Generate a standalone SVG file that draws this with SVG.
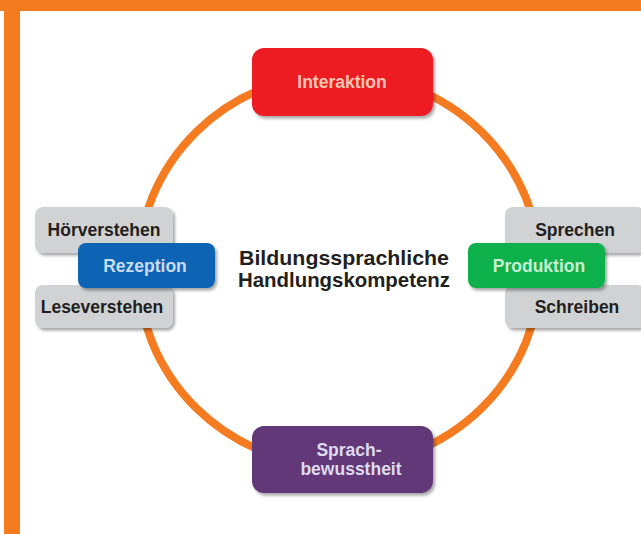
<svg xmlns="http://www.w3.org/2000/svg" width="641" height="534" viewBox="0 0 641 534">
<defs>
<filter id="sh" x="-10%" y="-10%" width="130%" height="140%">
<feDropShadow dx="2" dy="2.5" stdDeviation="1.5" flood-color="#000" flood-opacity="0.35"/>
</filter>
<style>
text{font-family:"Liberation Sans",Arial,sans-serif;font-weight:bold;text-anchor:middle}
.lbl{font-size:17.5px}
.gray{fill:#d1d2d4}
.dark{fill:#231f20}
</style>
</defs>
<rect x="0" y="0" width="641" height="534" fill="#fff"/>
<rect x="0" y="0" width="641" height="11" fill="#f47b20"/>
<rect x="4" y="0" width="16" height="534" fill="#f47b20"/>
<g id="connectors">
<ellipse cx="339" cy="270" rx="201" ry="196" fill="none" stroke="#f47b20" stroke-width="8"/>
</g>
<g id="center-label">
<text class="dark" x="344" y="265" font-size="21" textLength="210" lengthAdjust="spacingAndGlyphs">Bildungssprachliche</text>
<text class="dark" x="344" y="287" font-size="21" textLength="212" lengthAdjust="spacingAndGlyphs">Handlungskompetenz</text>
</g>
<g id="hoerverstehen">
<rect class="gray" x="35" y="207" width="138" height="46" rx="8" filter="url(#sh)"/>
<text class="lbl dark" x="104" y="236">Hörverstehen</text>
</g>
<g id="leseverstehen">
<rect class="gray" x="35" y="285" width="138" height="43" rx="8" filter="url(#sh)"/>
<text class="lbl dark" x="102" y="313">Leseverstehen</text>
</g>
<g id="rezeption">
<rect x="78" y="243" width="137" height="45" rx="8" fill="#0864b4" filter="url(#sh)"/>
<text class="lbl" x="145" y="272" fill="#c9dcf0">Rezeption</text>
</g>
<g id="sprechen">
<rect class="gray" x="505" y="207" width="140" height="46" rx="8" filter="url(#sh)"/>
<text class="lbl dark" x="575" y="236">Sprechen</text>
</g>
<g id="schreiben">
<rect class="gray" x="505" y="285" width="140" height="43" rx="8" filter="url(#sh)"/>
<text class="lbl dark" x="577" y="313">Schreiben</text>
</g>
<g id="produktion">
<rect x="468" y="243" width="137" height="45" rx="8" fill="#0db04b" filter="url(#sh)"/>
<text class="lbl" x="539" y="272" fill="#c8eed2">Produktion</text>
</g>
<g id="interaktion">
<rect x="252" y="48" width="181" height="68" rx="12" fill="#ed1c24" filter="url(#sh)"/>
<text class="lbl" x="342" y="88" fill="#fbc6b4">Interaktion</text>
</g>
<g id="sprachbewusstheit">
<rect x="252" y="426" width="181" height="67" rx="12" fill="#633778" filter="url(#sh)"/>
<text class="lbl" x="349" y="456" fill="#dcdcee">Sprach-</text>
<text class="lbl" x="351" y="475" fill="#dcdcee">bewusstheit</text>
</g>
</svg>
